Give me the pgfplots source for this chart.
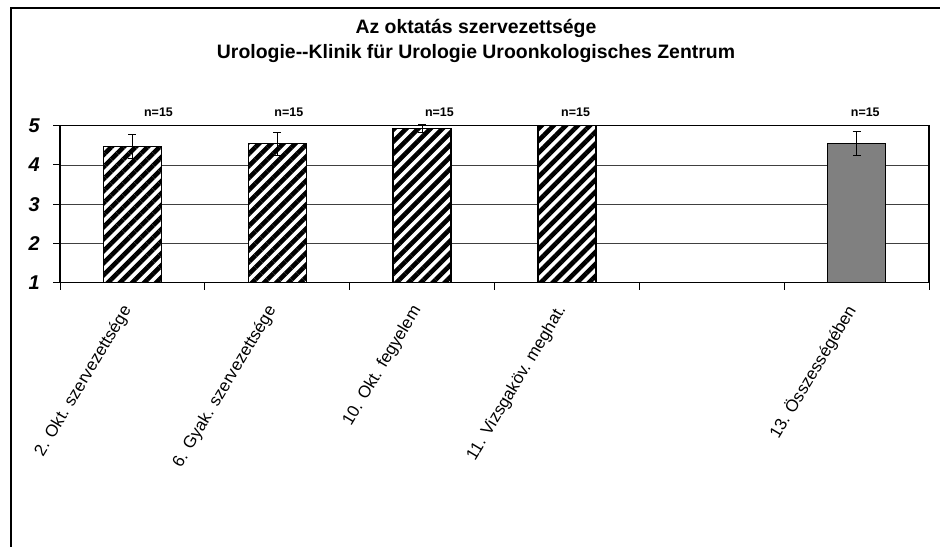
\documentclass[border=0pt]{standalone}
\usepackage{fontspec}
\setmainfont{Liberation Sans}
\usepackage{pgfplots}
\pgfplotsset{compat=1.18}
\usetikzlibrary{patterns.meta}
\begin{document}
\begin{tikzpicture}[x=1bp,y=1bp]
\path[use as bounding box] (0,0) rectangle (940,547);
\draw[line width=1.3bp] (11,0) -- (11,539) -- (940,539);
\node[font=\fontsize{19.5}{20}\selectfont\bfseries, anchor=base] at (476,513) {Az oktatás szervezettsége};
\node[font=\fontsize{19.5}{20}\selectfont\bfseries, anchor=base] at (476,488) {Urologie-\kern0pt-Klinik für Urologie Uroonkologisches Zentrum};
\begin{axis}[
  at={(60bp,264.3bp)}, anchor=south west, scale only axis,
  width=869bp, height=157bp,
  xmin=-0.5, xmax=5.5, ymin=1, ymax=5,
  ybar, bar width=58bp, bar shift=0pt,
  clip=false,
  ytick={1,2,3,4,5},
  ymajorgrids, grid style={black!75, line width=0.7bp},
  xtick={-0.5,0.5,1.5,2.5,3.5,4.5,5.5},
  x tick label as interval,
  xticklabels={2. Okt. szervezettsége, 6. Gyak. szervezettsége, 10. Okt. fegyelem, 11. Vizsgaköv. meghat., {}, 13. Összességében},
  xtick pos=bottom, ytick pos=left,
  tick align=outside, major tick length=7bp,
  tick style={black, line width=1bp},
  axis line style={line width=1.3bp},
  /pgf/number format/assume math mode=true,
  yticklabel style={font=\fontsize{20}{20}\selectfont\bfseries\itshape, inner sep=0pt, anchor=east},
  yticklabel shift=13bp,
  xticklabel style={font=\fontsize{17}{17}\selectfont, rotate=59, anchor=east, inner sep=0pt, xshift=-9bp},
  xticklabel shift=10bp,
]
\addplot[draw=black, line width=1.5bp, fill=white,
  postaction={pattern={Lines[angle=45,distance=8.5bp,line width=4.6bp]}, pattern color=black},
  error bars/.cd, y dir=both, y explicit,
  error bar style={black, line width=1bp},
  error mark options={rotate=90, mark size=4bp, line width=1bp, black}]
  coordinates {
  (0,4.47) +- (0,0.31)
  (1,4.54) +- (0,0.29)
  (2,4.93) +- (0,0.10)
  (3,5.00) +- (0,0.00)
  };
\addplot[draw=black, line width=1.5bp, fill=black!50,
  error bars/.cd, y dir=both, y explicit,
  error bar style={black, line width=1bp},
  error mark options={rotate=90, mark size=4bp, line width=1bp, black}]
  coordinates {
  (5,4.54) +- (0,0.30)
  };
\node[font=\fontsize{12.5}{13}\selectfont\bfseries] at (axis cs:0.18,5.35) {n=15};
\node[font=\fontsize{12.5}{13}\selectfont\bfseries] at (axis cs:1.08,5.35) {n=15};
\node[font=\fontsize{12.5}{13}\selectfont\bfseries] at (axis cs:2.12,5.35) {n=15};
\node[font=\fontsize{12.5}{13}\selectfont\bfseries] at (axis cs:3.06,5.35) {n=15};
\node[font=\fontsize{12.5}{13}\selectfont\bfseries] at (axis cs:5.06,5.35) {n=15};
\end{axis}
\end{tikzpicture}
\end{document}
